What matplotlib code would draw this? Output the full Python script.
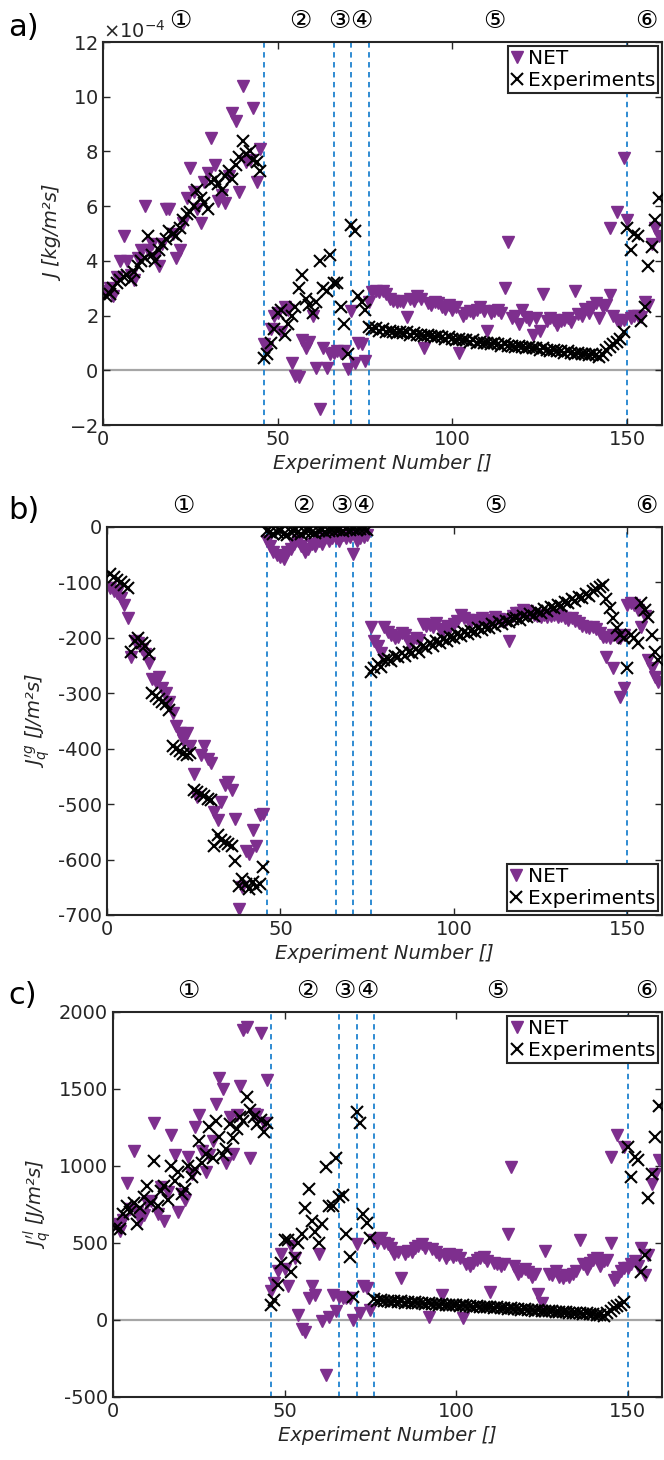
import numpy as np
import matplotlib
matplotlib.use('Agg')
import matplotlib.pyplot as plt

# experiment numbers 1..159, region boundaries (dashed lines)
exp_no = np.arange(1, 160)
boundaries = [46, 66, 71, 76, 150]
region_mid = [22, 56.5, 67.5, 74, 112, 155.5]
region_names = ['①', '②', '③', '④', '⑤', '⑥']

# ---- panel a: mass flux J (x1e-4 kg/m2s) ----
a_exp = [2.7, 2.8, 3.0, 3.2, 3.3, 3.4, 3.5, 3.3, 3.6, 3.8,
         4.0, 4.1, 4.9, 4.2, 4.0, 4.4, 4.6, 4.8, 5.1, 5.0,
         4.9, 5.2, 5.5, 5.7, 5.8, 6.0, 6.6, 6.3, 6.1, 5.9,
         6.9, 7.0, 6.8, 6.6, 7.1, 7.3, 7.0, 7.5, 7.8, 8.4,
         7.9, 8.0, 7.7, 7.6, 7.3,
         0.45, 0.6, 1.0, 1.5, 2.1, 2.2, 1.3, 1.7, 2.0, 2.3,
         3.0, 3.5, 2.6, 2.4, 2.1, 2.5, 4.0, 3.0, 2.9, 4.2,
         3.2, 3.2, 2.3, 1.7, 0.6,
         5.3, 5.1, 2.7, 2.5, 2.2,
         1.6, 1.5, 1.55, 1.45, 1.5, 1.4, 1.45, 1.4, 1.35, 1.4,
         1.35, 1.4, 1.3, 1.35, 1.3, 1.3, 1.25, 1.3, 1.25, 1.2,
         1.25, 1.2, 1.15, 1.2, 1.15, 1.1, 1.15, 1.1, 1.1, 1.05,
         1.1, 1.0, 1.05, 1.0, 1.0, 0.95, 1.0, 0.95, 0.9, 0.95,
         0.9, 0.9, 0.85, 0.9, 0.85, 0.8, 0.85, 0.8, 0.8, 0.75,
         0.8, 0.75, 0.7, 0.75, 0.7, 0.7, 0.65, 0.7, 0.65, 0.6,
         0.65, 0.6, 0.6, 0.55, 0.6, 0.55, 0.5, 0.55, 0.75, 0.85,
         0.95, 1.05, 1.15, 1.4,
         5.2, 4.4, 5.0, 4.9, 1.8, 2.3, 3.8, 4.5, 5.5, 6.3]
a_net = [2.9, 3.0, 2.7, 3.4, 4.0, 4.9, 4.0, 3.5, 3.3, 4.1,
         4.4, 6.0, 4.4, 4.6, 4.1, 3.8, 4.6, 5.9, 5.9, 5.0,
         4.1, 4.4, 5.4, 6.3, 7.4, 6.5, 5.9, 5.4, 6.9, 7.2,
         8.5, 7.5, 6.2, 6.4, 6.1, 7.1, 9.4, 9.1, 6.5, 10.4,
         7.6, 7.7, 9.6, 6.9, 8.1,
         0.95, 0.8, 1.5, 2.0, 2.1, 1.4, 2.3, 2.2, 0.25, -0.2,
         -0.25, 1.1, 0.8, 1.05, 2.0, 0.1, -1.4, 0.8, 0.1, 0.6,
         0.65, 0.7, 0.65, 0.7, 0.05,
         2.15, 0.25, 1.0, 0.95, 0.35,
         2.5, 2.85, 2.9, 2.85, 2.9, 2.8, 2.6, 2.55, 2.5, 2.55,
         2.5, 1.95, 2.6, 2.55, 2.7, 2.6, 0.8, 2.45, 2.4, 2.5,
         2.45, 2.3, 2.25, 2.4, 2.2, 2.3, 0.65, 2.0, 2.1, 2.15,
         2.1, 2.2, 2.3, 2.15, 1.45, 2.1, 2.15, 2.2, 2.1, 3.0,
         4.7, 1.9, 2.0, 1.7, 2.2, 1.95, 1.85, 1.3, 1.9, 1.45,
         2.8, 1.8, 1.9, 1.85, 1.65, 1.8, 1.85, 1.9, 1.75, 2.9,
         2.05, 2.0, 2.25, 2.1, 2.3, 2.45, 1.9, 2.3, 2.4, 2.75,
         2.0, 1.85, 1.8, 1.85,
         5.5, 1.9, 2.0, 2.0, 1.95, 2.5, 2.4, 4.6, 5.2, 4.9]
a_net_extra_x = [145, 147, 149]
a_net_extra_y = [5.2, 5.8, 7.75]

# ---- panel b: gas heat flux J'q^g (J/m2s) ----
b_exp = [-85, -90, -95, -100, -105, -110, -225, -205, -200, -210,
         -215, -230, -300, -305, -310, -315, -320, -330, -395, -400,
         -405, -410, -412, -408, -475, -478, -482, -486, -490, -493,
         -575, -556, -565, -568, -572, -575, -602, -647, -635, -644,
         -653, -641, -650, -645, -614,
         -8, -10, -12, -10, -8, -12, -14, -10, -8, -10,
         -12, -9, -7, -10, -11, -8, -6, -9, -7, -5,
         -6, -5, -7, -4, -5,
         -4, -5, -3, -4, -5,
         -262, -255, -248, -252, -240, -238, -242, -232, -235, -228,
         -232, -225, -228, -220, -225, -215, -218, -210, -214, -206,
         -210, -202, -205, -198, -200, -194, -197, -190, -193, -187,
         -190, -183, -186, -180, -182, -176, -178, -172, -175, -170,
         -172, -167, -165, -168, -160, -163, -157, -160, -152, -155,
         -148, -151, -144, -146, -140, -143, -136, -138, -130, -133,
         -126, -128, -121, -124, -116, -112, -108, -104, -130, -147,
         -165, -182, -195, -200,
         -255, -195, -200, -210, -138, -150, -162, -195, -225, -240]
b_net = [-110, -115, -120, -128, -140, -165, -235, -205, -210, -220,
         -230, -245, -275, -280, -270, -290, -300, -315, -335, -360,
         -372, -385, -372, -395, -445, -488, -412, -396, -418, -426,
         -514, -529, -496, -465, -460, -475, -526, -690, -650, -584,
         -590, -547, -575, -520, -518,
         -25, -35, -45, -50, -55, -58, -45, -40, -30, -25,
         -35, -45, -40, -30, -35, -25, -30, -20, -25, -20,
         -20, -25, -15, -20, -18,
         -48, -25, -20, -18, -15,
         -180, -205, -215, -228, -180, -190, -195, -200, -198, -192,
         -195, -210, -205, -200, -204, -175, -178, -177, -180, -174,
         -185, -186, -178, -180, -175, -170, -159, -165, -168, -170,
         -168, -172, -165, -170, -174, -168, -162, -166, -170, -168,
         -205, -160, -156, -155, -150, -152, -156, -158, -160, -162,
         -158, -162, -160, -159, -162, -160, -165, -168, -165, -170,
         -174, -178, -180, -182, -180, -185, -192, -198, -198, -200,
         -195, -198, -200, -195,
         -140, -138, -140, -150, -180, -160, -240, -255, -270, -280]
b_net_extra_x = [144, 146, 148, 149]
b_net_extra_y = [-234, -255, -306, -290]

# ---- panel c: liquid heat flux J'q^l (J/m2s) ----
c_exp = [600, 590, 690, 740, 700, 760, 620, 730, 800, 870,
         760, 1030, 740, 840, 870, 780, 1000, 900, 960, 820,
         850, 1000, 930, 980, 1160, 1020, 1080, 1250, 1050, 1290,
         1190, 1070, 1110, 1270, 1180, 1240, 1320, 1290, 1450, 1360,
         1320, 1270, 1300, 1220, 1280,
         100, 130, 230, 370, 520, 520, 310, 400, 500, 560,
         730, 850, 640, 570, 500, 620, 990, 740, 740, 1050,
         800, 810, 560, 410, 150,
         1350, 1280, 690, 630, 530,
         135, 125, 130, 120, 125, 118, 122, 115, 120, 112,
         116, 110, 114, 108, 112, 105, 108, 102, 106, 100,
         103, 98, 100, 95, 98, 92, 95, 90, 92, 87,
         90, 84, 87, 82, 84, 79, 82, 76, 79, 73,
         76, 70, 72, 67, 70, 64, 66, 61, 63, 58,
         60, 55, 57, 52, 54, 49, 51, 46, 48, 43,
         45, 40, 42, 37, 39, 34, 30, 25, 45, 60,
         75, 90, 100, 115,
         1120, 930, 1060, 1040, 310, 420, 790, 950, 1190, 1390]
c_net = [620, 580, 650, 890, 720, 1100, 700, 650, 680, 760,
         770, 1280, 690, 860, 640, 830, 1200, 1070, 700, 820,
         780, 1060, 950, 1250, 1330, 1100, 960, 1070, 1160, 1400,
         1570, 1500, 1020, 1320, 1080, 1330, 1520, 1880, 1900, 1050,
         1340, 1330, 1860, 1280, 1560,
         190, 240, 320, 430, 330, 220, 480, 400, 30, -60,
         -80, 140, 220, 160, 430, -10, -360, 20, 160, 55,
         150, 140, 145, 140, 0,
         490, 45, 220, 205, 65,
         520, 500, 530, 500, 490, 470, 430, 440, 270, 430,
         450, 440, 470, 480, 490, 470, 20, 460, 440, 420,
         160, 400, 430, 410, 420, 400, 10, 360, 350, 370,
         390, 400, 410, 380, 180, 370, 360, 350, 360, 560,
         990, 350, 300, 320, 330, 310, 280, 300, 170, 110,
         450, 300, 290, 320, 280, 270, 290, 280, 300, 320,
         520, 360, 330, 370, 390, 400, 350, 380, 390, 500,
         260, 280, 320, 340,
         340, 360, 380, 350, 470, 290, 420, 880, 950, 1040]
c_net_extra_x = [145, 147, 149]
c_net_extra_y = [1060, 1200, 1120]

PURPLE = '#7E2F8E'
DASH = '#1f82cf'
TXT = '#262626'

plt.rcParams['font.family'] = 'DejaVu Sans'
plt.rcParams['axes.unicode_minus'] = False
plt.rcParams['mathtext.fontset'] = 'dejavusans'


def panel(ax, exp, net, ex_x, ex_y, ylim, yticks, ylabel, zero_line, leg_loc):
    if zero_line:
        ax.axhline(0, color='#a6a6a6', lw=1.6, zorder=1)
    for b in boundaries:
        ax.axvline(b, color=DASH, lw=1.3, ls=(0, (3, 2.5)), zorder=1.5)
    h_net, = ax.plot(exp_no, net, 'v', color=PURPLE, ms=8.5, ls='none', zorder=2)
    ax.plot(ex_x, ex_y, 'v', color=PURPLE, ms=8.5, ls='none', zorder=2)
    h_exp, = ax.plot(exp_no, exp, 'x', color='k', ms=8, mew=1.5, ls='none', zorder=3)

    ax.set_xlim(0, 160)
    ax.set_ylim(*ylim)
    ax.set_xticks([0, 50, 100, 150])
    ax.set_yticks(yticks)
    ax.tick_params(direction='in', length=5, width=1, top=True, right=True,
                   labelsize=14, colors=TXT)
    for s in ax.spines.values():
        s.set_linewidth(1.5)
        s.set_color(TXT)
    ax.set_xlabel('Experiment Number []', fontsize=14, style='italic', color=TXT)
    ax.set_ylabel(ylabel, fontsize=14, style='italic', color=TXT)

    for xm, name in zip(region_mid, region_names):
        ax.annotate(name, xy=(xm, 1), xycoords=('data', 'axes fraction'),
                    xytext=(0, 15), textcoords='offset points',
                    ha='center', va='center', fontsize=18,
                    family=['DejaVu Serif', 'DejaVu Sans'], color='k')

    leg = ax.legend([h_net, h_exp], ['NET', 'Experiments'], loc=leg_loc,
                    fontsize=14.5, frameon=True, fancybox=False, framealpha=1,
                    edgecolor=TXT, handlelength=0.6, handletextpad=0.25,
                    borderpad=0.15, labelspacing=0.15, borderaxespad=0.2)
    leg.get_frame().set_linewidth(1.5)


fig = plt.figure(figsize=(6.64, 14.6), dpi=100)
ax_a = fig.add_axes([0.1551, 0.7089, 0.842, 0.2623])
ax_b = fig.add_axes([0.1611, 0.3733, 0.8358, 0.2658])
ax_c = fig.add_axes([0.1702, 0.0432, 0.8268, 0.2637])

panel(ax_a, np.array(a_exp) * 1e-4, np.array(a_net) * 1e-4,
      a_net_extra_x, np.array(a_net_extra_y) * 1e-4,
      (-2e-4, 12e-4), np.arange(-2, 13, 2) * 1e-4,
      'J [kg/m²s]', True, 'upper right')
ax_a.ticklabel_format(axis='y', style='sci', scilimits=(-4, -4), useMathText=True)
ax_a.yaxis.get_offset_text().set_fontsize(14)
ax_a.yaxis.get_offset_text().set_color(TXT)

panel(ax_b, b_exp, b_net, b_net_extra_x, b_net_extra_y,
      (-700, 0), np.arange(-700, 1, 100),
      r"$J^{\prime g}_{q}$ [J/m²s]", False, 'lower right')

panel(ax_c, c_exp, c_net, c_net_extra_x, c_net_extra_y,
      (-500, 2000), np.arange(-500, 2001, 500),
      r"$J^{\prime l}_{q}$ [J/m²s]", True, 'upper right')

fig.text(0.012, 1 - 28 / 1460, 'a)', fontsize=22, va='center', color='k')
fig.text(0.012, 1 - 510 / 1460, 'b)', fontsize=22, va='center', color='k')
fig.text(0.012, 1 - 995 / 1460, 'c)', fontsize=22, va='center', color='k')

fig.savefig('out.png', dpi=100)
